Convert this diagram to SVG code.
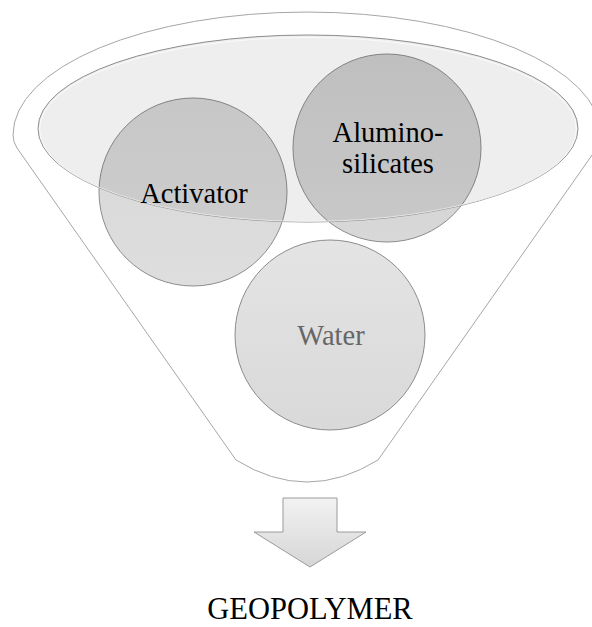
<svg xmlns="http://www.w3.org/2000/svg" width="592" height="627" viewBox="0 0 592 627">
<defs>
<linearGradient id="gAct" x1="0" y1="0" x2="0" y2="1"><stop offset="0" stop-color="#d6d6d6"/><stop offset="1" stop-color="#dedede"/></linearGradient>
<linearGradient id="gAlu" x1="0" y1="0" x2="0" y2="1"><stop offset="0" stop-color="#cdcdcd"/><stop offset="1" stop-color="#d8d8d8"/></linearGradient>
<linearGradient id="gWat" x1="0" y1="0" x2="0" y2="1"><stop offset="0" stop-color="#e4e4e4"/><stop offset="1" stop-color="#d9d9d9"/></linearGradient>
<linearGradient id="gArr" x1="0" y1="0" x2="0" y2="1"><stop offset="0" stop-color="#f2f2f2"/><stop offset="1" stop-color="#d6d6d6"/></linearGradient>
<style>
.outline{fill:#fff;stroke:#a6a6a6;stroke-width:1}
.ball{stroke:#8c8c8c;stroke-width:1}
text{font-family:'Liberation Serif','Times New Roman',serif;text-anchor:middle}
.lbl{font-size:28.5px;fill:#000}
</style>
</defs>
<g id="funnel">
<path class="outline" d="M17,148 L236,460 Q307,504 378,460 L597,148 Q601,142 601,135 A294,123 0 0 0 13,135 Q13,142 17,148 Z"/>
</g>
<g id="activator">
<circle class="ball" cx="193" cy="192" r="94" fill="url(#gAct)"/>
</g>
<g id="aluminosilicates">
<circle class="ball" cx="387" cy="148" r="94" fill="url(#gAlu)"/>
</g>
<g id="water">
<circle class="ball" cx="330" cy="335" r="95" fill="url(#gWat)" stroke="#a0a0a0"/>
<text x="331" y="345" font-family="Liberation Serif, serif" font-size="28.5" fill="#666">Water</text>
</g>
<g id="funnel-top">
<ellipse cx="308" cy="128.5" rx="270" ry="93.5" fill="#000" fill-opacity="0.065" stroke="#8c8c8c" stroke-width="1"/>
<ellipse cx="308" cy="129.5" rx="268.5" ry="92" fill="none" stroke="#fff" stroke-opacity="0.7" stroke-width="1"/>
</g>
<g id="labels">
<text class="lbl" x="194" y="203" font-family="Liberation Serif, serif">Activator</text>
<text class="lbl" x="388" y="142" font-family="Liberation Serif, serif">Alumino-</text>
<text class="lbl" x="388" y="173" font-family="Liberation Serif, serif">silicates</text>
</g>
<g id="connectors">
<path d="M283,498 L337,498 L337,532 L366,532 L310,567 L254,532 L283,532 Z" fill="url(#gArr)" stroke="#9a9a9a" stroke-width="1"/>
</g>
<g id="result">
<text x="310" y="619" font-family="Liberation Serif, serif" font-size="30.5" fill="#000">GEOPOLYMER</text>
</g>
</svg>
